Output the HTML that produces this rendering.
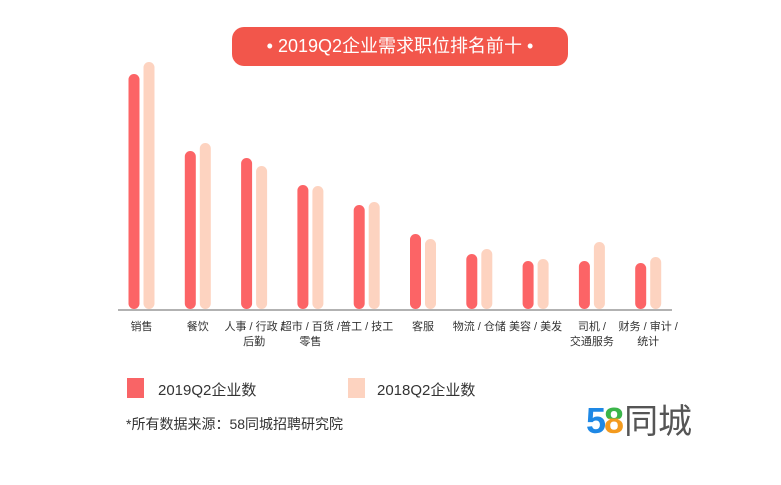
<!DOCTYPE html>
<html><head><meta charset="utf-8">
<style>
body{margin:0;width:781px;height:485px;background:#fff;overflow:hidden;position:relative;font-family:"Liberation Sans","Noto Sans CJK SC",sans-serif;}
.pill{position:absolute;left:232px;top:27px;width:336px;height:39px;background:#f2564b;border-radius:12px;color:#fff;font-size:18px;line-height:39px;text-align:center;}
.lbl{position:absolute;font-size:11px;color:#333;text-align:center;width:70px;line-height:15px;white-space:nowrap;}
.sq{position:absolute;width:17px;height:20px;}
.lt{position:absolute;font-size:15px;color:#333;}
</style></head><body>
<div class="pill">• 2019Q2企业需求职位排名前十 •</div>
<svg id="chart" width="781" height="485" style="position:absolute;left:0;top:0">
<line x1="118" y1="310" x2="672" y2="310" stroke="#999" stroke-width="1.5"/>
</svg>
<div id="labels"></div>
<div class="sq" style="left:127px;top:378px;background:#f96466"></div>
<div class="lt" style="left:158px;top:379px">2019Q2企业数</div>
<div class="sq" style="left:348px;top:378px;background:#fdd3c0"></div>
<div class="lt" style="left:377px;top:379px">2018Q2企业数</div>
<div style="position:absolute;left:126px;top:414px;font-size:14px;color:#333">*所有数据来源：58同城招聘研究院</div>
<div style="position:absolute;left:586px;top:399px;font-size:36px;font-weight:bold;line-height:44px"><span style="color:#1e88e5">5</span><span style="background:linear-gradient(#3bb54a 45%,#f39a1e 45%);-webkit-background-clip:text;background-clip:text;color:transparent;margin-left:-2px">8</span><span style="color:#555;font-weight:normal;font-size:34px">同城</span></div>
<script>
const cats=["销售","餐饮","人事 / 行政 /\n后勤","超市 / 百货 /\n零售","普工 / 技工","客服","物流 / 仓储","美容 / 美发","司机 /\n交通服务","财务 / 审计 /\n统计"];
const v2019=[235,158,151,124,104,75,55,48,48,46];
const v2018=[247,166,143,123,107,70,60,50,67,52];
const svg=document.getElementById('chart');
const NS='http://www.w3.org/2000/svg';
const base=309, x0=134, step=56.3, bw=11;
function y(v){return base-v;}
function xc(i){return x0+i*step;}
function bar(cx,v,col,name){
  const r=document.createElementNS(NS,'rect');
  r.setAttribute('x',cx-bw/2);r.setAttribute('y',y(v));
  r.setAttribute('width',bw);r.setAttribute('height',v);
  r.setAttribute('rx',5.5);r.setAttribute('fill',col);
  
  
  svg.appendChild(r);
}
cats.forEach((c,i)=>{
  bar(xc(i),v2019[i],'#fc6466','bar-2019-'+i);
  bar(xc(i)+15,v2018[i],'#fdd3c0','bar-2018-'+i);
  const d=document.createElement('div');
  d.className='lbl';
  d.style.left=(xc(i)+7.5-35)+'px';d.style.top='320px';
  d.innerHTML=c.replace('\n','<br>');
  
  
  document.getElementById('labels').appendChild(d);
});
</script>
</body></html>
